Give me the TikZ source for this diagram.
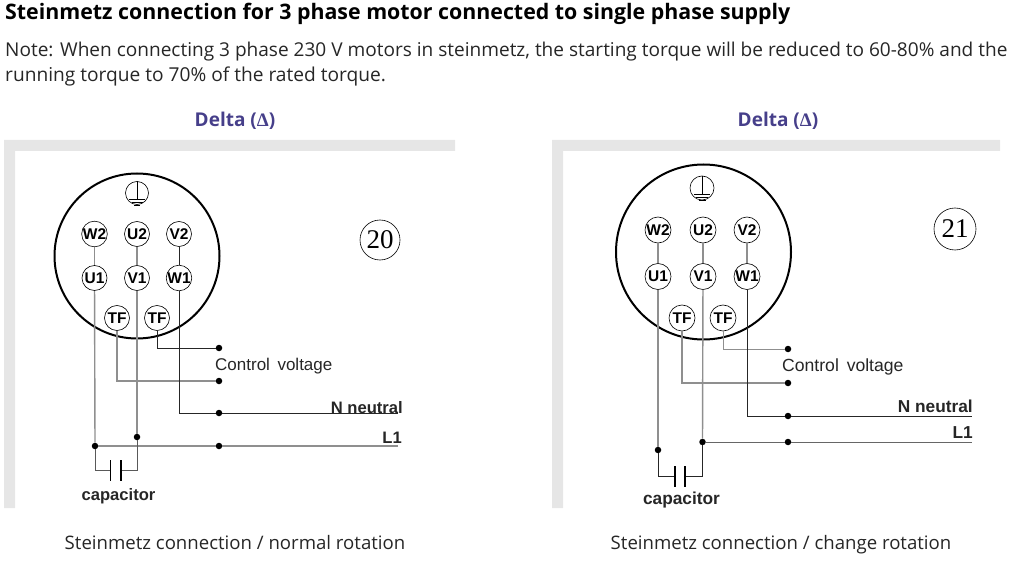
\documentclass[tikz,border=0pt]{standalone}
\usepackage{fontspec}
\setmainfont{Open Sans}
\newfontfamily\labelfont{Liberation Sans}
\newfontfamily\numfont{Liberation Serif}
\usepackage{tikz}
\definecolor{framegray}{HTML}{E6E6E6}
\definecolor{wiregray}{HTML}{8F8F8F}
\definecolor{deltablue}{HTML}{463F8A}
\tikzset{
    pin/.style={draw,semithick,circle,inner sep=0pt,fill=white,font=\labelfont\bfseries\fontsize{15.5}{15.5}\selectfont},
    earth/.style={draw,semithick,circle,inner sep=0pt},
    joint/.style={circle,fill=black,inner sep=0pt,minimum size=6.5pt},
    blackwire/.style={draw=black!85,line width=1pt},
    graywire/.style={draw=wiregray,line width=1.4pt},
    plate/.style={draw=black,line width=1.8pt},
    wirelabel/.style={font=\labelfont\fontsize{17}{17}\selectfont,inner sep=0pt,text=black!85},
    boldlabel/.style={font=\labelfont\bfseries\fontsize{16.6}{16.6}\selectfont,inner sep=0pt,text=black!85},
    heading/.style={font=\bfseries\fontsize{19}{19}\selectfont,text=deltablue,inner sep=0pt,anchor=base},
    caption/.style={font=\fontsize{18.6}{18.6}\selectfont,text=black!85,inner sep=0pt,anchor=base},
    badge/.style={draw,semithick,circle,inner sep=0pt,font=\numfont\fontsize{27}{27}\selectfont}
}
\begin{document}
\begin{tikzpicture}[x=1pt,y=-1pt]
    \useasboundingbox (0,0) rectangle (1014,561);
    %Title and note
    \node[anchor=base west,inner sep=0pt,font=\bfseries\fontsize{21.35}{21.35}\selectfont] (title) at (5,20) {Steinmetz connection for 3 phase motor connected to single phase supply};
    \node[anchor=base west,inner sep=0pt,font=\fontsize{19.05}{19.05}\selectfont,text=black!85] (noteA) at (5,57) {Note: When connecting 3 phase 230 V motors in steinmetz, the starting torque will be reduced to 60-80\% and the};
    \node[anchor=base west,inner sep=0pt,font=\fontsize{19.15}{19.15}\selectfont,text=black!85] (noteB) at (5,82) {running torque to 70\% of the rated torque.};
    \node[heading] (deltaL) at (235,127) {Delta ({\numfont Δ})};
    \node[heading] (deltaR) at (778,127) {Delta ({\numfont Δ})};
    \fill[framegray] (4,140) -- (455,140) -- (455,151) -- (15,151) -- (15,508) -- (4,508) -- cycle;
    \fill[framegray] (552,140) -- (1000,140) -- (1000,151) -- (563,151) -- (563,508) -- (552,508) -- cycle;

    %Left motor, normal rotation
    \draw[line width=2pt] (137,256) circle (82.5);
    \node[earth,minimum size=23pt] (earthL) at (137,193) {};
    \draw[thin] (earthL.north) -- (137,199) (129,199) -- (145,199) (131.5,202) -- (142.5,202) (134,205) -- (140,205);
    \foreach \name/\x/\y/\text in {wtwoL/94.5/234/W2, utwoL/137/234/U2, vtwoL/179/234/V2, uoneL/94.5/278/U1, voneL/137/278/V1, woneL/179/278/W1, tfaL/117/318/TF, tfbL/157/318/TF}
    \node[pin,minimum size=25pt] (\name) at (\x,\y) {\text};
    \foreach \name/\x/\y in {ctrlaL/219/348, ctrlbL/219/381, neutL/219/413, lineL/219/446, leftL/95/446, rightL/137/437}
    \node[joint] (\name) at (\x,\y) {};
    \coordinate (neutendL) at (398,413);
    \coordinate (lineendL) at (398,446);
    \coordinate (capaL) at (110.5,470.5);
    \coordinate (capbL) at (121,470.5);
    \draw[graywire] (wtwoL) -- (uoneL);
    \draw[graywire] (utwoL) -- (voneL);
    \draw[blackwire] (vtwoL) -- (woneL);
    \draw[graywire] (uoneL) -- (leftL);
    \draw[graywire] (voneL) -- (rightL);
    \draw[blackwire] (tfbL) |- (ctrlaL);
    \draw[graywire] (tfaL) |- (ctrlbL);
    \draw[blackwire] (woneL) |- (neutL);
    \draw[blackwire] (neutL) -- (neutendL);
    \draw[graywire] (leftL) -- (lineL);
    \draw[graywire] (lineL) -- (lineendL);
    \draw[blackwire,draw=black!65] (leftL) |- (capaL);
    \draw[blackwire,draw=black!65] (rightL) |- (capbL);
    \draw[plate] (110.5,460) -- (capaL) -- (110.5,481);
    \draw[plate] (121,460) -- (capbL) -- (121,481);
    \node[wirelabel,anchor=west] (ctrlL) at (215,366) {Control\, voltage};
    \node[boldlabel,anchor=east] (neutlabL) at (403,408) {N neutral};
    \node[boldlabel,anchor=east] (linelabL) at (402,438) {L1};
    \node[boldlabel] (capL) at (118.5,496.5) {capacitor};
    \node[badge,minimum size=40pt] (numL) at (380,240) {20};
    \node[caption] (capnoteL) at (235,549) {Steinmetz connection / normal rotation};

    %Right motor, change rotation
    \draw[line width=2pt] (703.5,252) circle (87.5);
    \node[earth,minimum size=24pt] (earthR) at (702,188) {};
    \draw[thin] (earthR.north) -- (702,194) (694,194) -- (710,194) (696,197.5) -- (708,197.5) (698.5,200.5) -- (705.5,200.5);
    \foreach \name/\x/\y/\text in {wtwoR/658/230/W2, utwoR/703/230/U2, vtwoR/747/230/V2, uoneR/658/276.5/U1, voneR/703/276.5/V1, woneR/747/276.5/W1, tfaR/682/318/TF, tfbR/723/318/TF}
    \node[pin,minimum size=26pt] (\name) at (\x,\y) {\text};
    \foreach \name/\x/\y in {ctrlaR/788/349, ctrlbR/788/383, neutR/788/416, lineR/788/442, leftR/658/450, rightR/702.5/442}
    \node[joint] (\name) at (\x,\y) {};
    \coordinate (neutendR) at (972,416);
    \coordinate (lineendR) at (972,442);
    \coordinate (capaR) at (674.7,476);
    \coordinate (capbR) at (684.7,476);
    \draw[graywire] (wtwoR) -- (uoneR);
    \draw[graywire] (utwoR) -- (voneR);
    \draw[graywire] (vtwoR) -- (woneR);
    \draw[graywire] (uoneR) -- (leftR);
    \draw[graywire] (voneR) -- (rightR);
    \draw[graywire,line width=1pt] (tfbR) |- (ctrlaR);
    \draw[graywire] (tfaR) |- (ctrlbR);
    \draw[blackwire] (woneR) |- (neutR);
    \draw[blackwire] (neutR) -- (neutendR);
    \draw[graywire,line width=1pt,draw=black!60] (rightR) -- (lineR);
    \draw[graywire,line width=1pt,draw=black!60] (lineR) -- (lineendR);
    \draw[blackwire] (leftR) |- (capaR);
    \draw[blackwire] (rightR) |- (capbR);
    \draw[plate] (674.7,466) -- (capaR) -- (674.7,487);
    \draw[plate] (684.7,466) -- (capbR) -- (684.7,487);
    \node[wirelabel,anchor=west,font=\labelfont\fontsize{17.6}{17.6}\selectfont] (ctrlR) at (782,367) {Control\, voltage};
    \node[boldlabel,anchor=east,font=\labelfont\bfseries\fontsize{17.3}{17.3}\selectfont] (neutlabR) at (973,406) {N neutral};
    \node[boldlabel,anchor=east,font=\labelfont\bfseries\fontsize{17.3}{17.3}\selectfont] (linelabR) at (973,433) {L1};
    \node[boldlabel,font=\labelfont\bfseries\fontsize{17.3}{17.3}\selectfont] (capR) at (681.5,500.5) {capacitor};
    \node[badge,minimum size=42pt] (numR) at (955,229) {21};
    \node[caption] (capnoteR) at (781,549) {Steinmetz connection / change rotation};
\end{tikzpicture}
\end{document}
